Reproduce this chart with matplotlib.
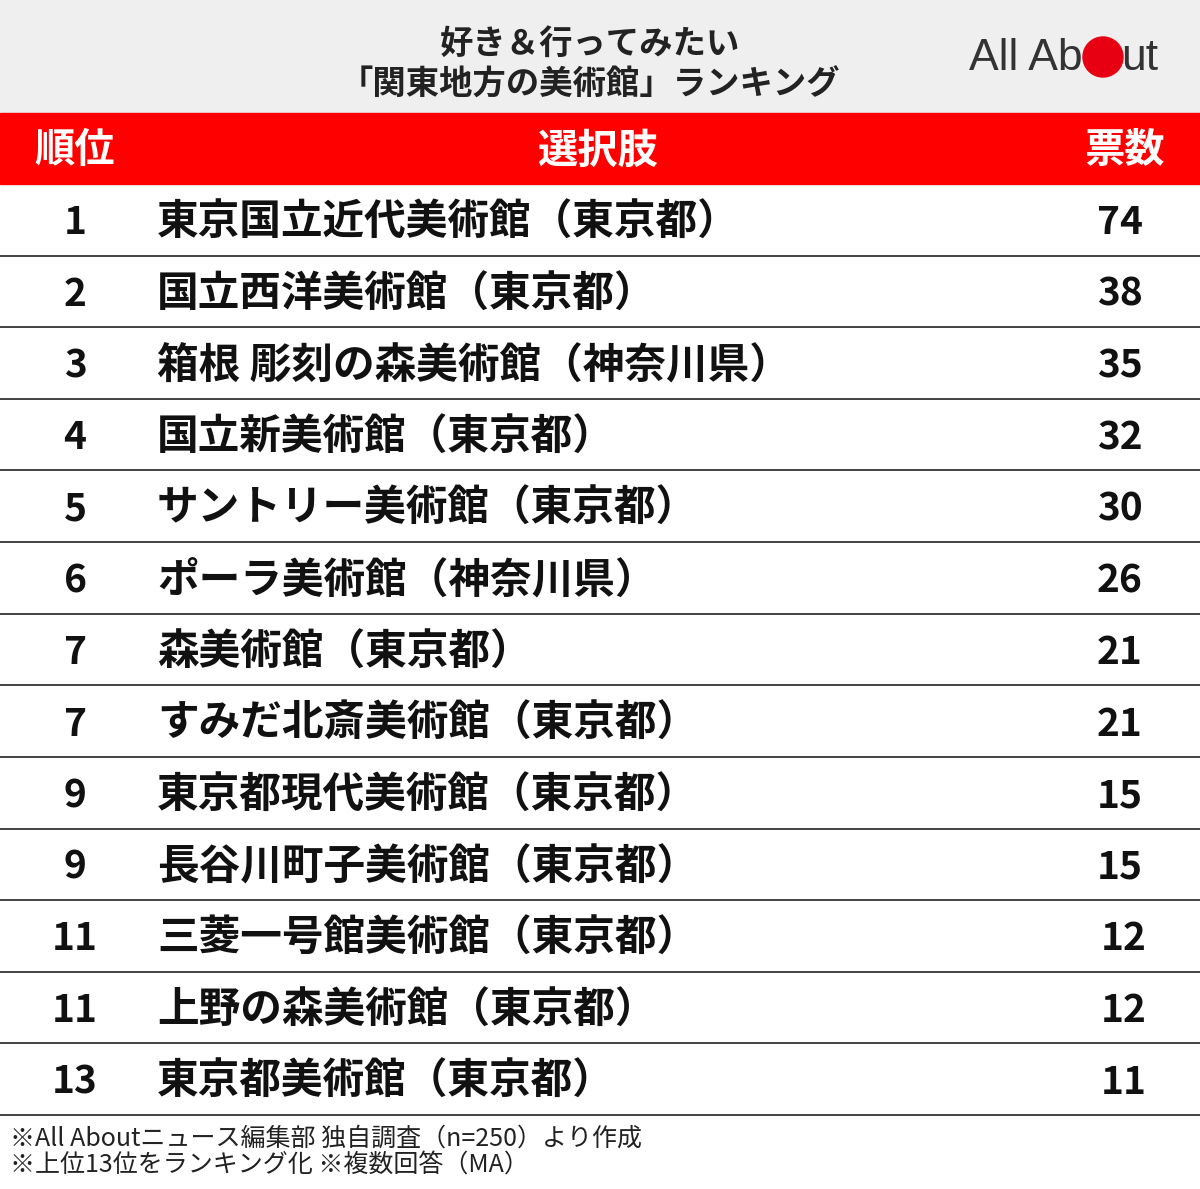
import matplotlib.pyplot as plt
from matplotlib.patches import Rectangle, Circle

plt.rcParams['font.family'] = 'Noto Sans CJK JP'

# データ
ranks = ['1', '2', '3', '4', '5', '6', '7', '7', '9', '9', '11', '11', '13']
names = ['東京国立近代美術館（東京都）', '国立西洋美術館（東京都）', '箱根 彫刻の森美術館（神奈川県）',
         '国立新美術館（東京都）', 'サントリー美術館（東京都）', 'ポーラ美術館（神奈川県）',
         '森美術館（東京都）', 'すみだ北斎美術館（東京都）', '東京都現代美術館（東京都）',
         '長谷川町子美術館（東京都）', '三菱一号館美術館（東京都）', '上野の森美術館（東京都）',
         '東京都美術館（東京都）']
votes = [74, 38, 35, 32, 30, 26, 21, 21, 15, 15, 12, 12, 11]

title = '好き＆行ってみたい\n「関東地方の美術館」ランキング'
headers = ['順位', '選択肢', '票数']
notes = ['※All Aboutニュース編集部 独自調査（n=250）より作成',
         '※上位13位をランキング化 ※複数回答（MA）']

W, H = 1200, 1189
fig = plt.figure(figsize=(W / 100, H / 100), dpi=100)
ax = fig.add_axes([0, 0, 1, 1])
ax.set_xlim(0, W)
ax.set_ylim(H, 0)
ax.axis('off')

# ヘッダー
ax.add_patch(Rectangle((0, 0), W, 113, color='#efefef'))
ax.text(590, 65, title, ha='center', va='center', fontsize=24, fontweight='bold',
        color='#222222', linespacing=1.3)
ax.text(1083, 58, 'All Ab', ha='right', va='center', fontsize=32, color='#333333',
        family='Liberation Sans')
ax.add_patch(Circle((1103, 57), 20, color='#e60012'))
ax.text(1121, 58, 'ut', ha='left', va='center', fontsize=32, color='#333333',
        family='Liberation Sans')

ax.add_patch(Rectangle((0, 113), W, 71, color='#ff0000'))
ax.text(75, 151, headers[0], ha='center', va='center', fontsize=29, fontweight='bold', color='white')
ax.text(598, 151, headers[1], ha='center', va='center', fontsize=29, fontweight='bold', color='white')
ax.text(1125, 151, headers[2], ha='center', va='center', fontsize=29, fontweight='bold', color='white')

# 行
top = 184
rh = (1115 - top) / len(ranks)
for i, (r, n, v) in enumerate(zip(ranks, names, votes)):
    yc = top + rh * (i + 0.5) + 3
    ax.text(75, yc, r, ha='center', va='center', fontsize=28, fontweight='bold', color='#111111')
    ax.text(157, yc, n, ha='left', va='center', fontsize=30, fontweight='bold', color='#111111')
    ax.text(1120 if v >= 13 else 1124, yc, str(v), ha='center', va='center', fontsize=28,
            fontweight='bold', color='#111111')
    ax.plot([0, W], [top + rh * (i + 1)] * 2, color='#222222', lw=1.2)

ax.text(10, 1139, notes[0], ha='left', va='center', fontsize=18, color='#222222')
ax.text(10, 1165, notes[1], ha='left', va='center', fontsize=18, color='#222222')

fig.savefig('out.png', dpi=100)
